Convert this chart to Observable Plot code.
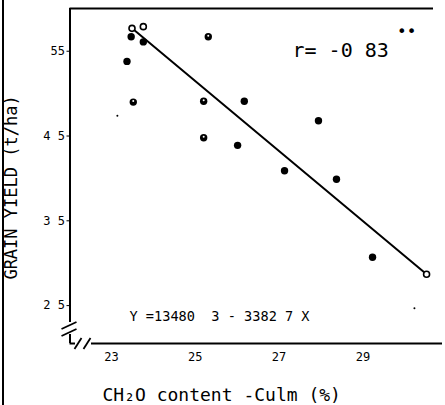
<!DOCTYPE html>
<html><head><meta charset="utf-8">
<script src="https://cdn.jsdelivr.net/npm/d3@7"></script>
<script src="https://cdn.jsdelivr.net/npm/@observablehq/plot@0.6"></script>
<style>
body{margin:0;background:#fff;}
#chart{width:445px;height:405px;}
</style></head><body><div id="chart"></div>
<script>
// Data
const xValues = [2.349, 2.376, 2.347, 2.376, 2.337, 2.352, 2.531, 2.520, 2.617, 2.520, 2.601, 2.713, 2.794, 2.837, 2.923, 3.052];
const yValues = [5.77, 5.79, 5.67, 5.61, 5.38, 4.90, 5.67, 4.91, 4.91, 4.48, 4.39, 4.09, 4.68, 3.99, 3.07, 2.87];
const pointTypes = ["open","open","filled","filled","filled","half","half","half","filled","half","filled","filled","filled","filled","filled","open"];
const speckX = [2.314, 3.023];
const speckY = [4.74, 2.47];
const fitX = [2.349, 3.052];
const fitY = [5.77, 2.87];
const xTicks = [2.3, 2.5, 2.7, 2.9];
const xTickLabels = ["23", "25", "27", "29"];
const yTicks = [5.5, 4.5, 3.5, 2.5];
const yTickLabels = ["55", "4 5", "3 5", "2 5"];
const xLabel = "CH₂O content -Culm (%)";
const yLabel = "GRAIN YIELD (t/ha)";
const rText = "r= -0 83";
const rStars = "••";
const eqText = "Y =13480  3 - 3382 7 X";

const nb = s => s.replace(/ /g, "\u00a0");
const W = 445, H = 405, mL = 69.5, mR = 3, mT = 8, mB = 62;
const xDomain = [2.201, 3.090], yDomain = [2.053, 6.004];
const xs = d3.scaleLinear(xDomain, [mL, W - mR]);
const ys = d3.scaleLinear(yDomain, [H - mB, mT]);
const pts = xValues.map((x, i) => ({x, y: yValues[i], type: pointTypes[i]}));
const fit = fitX.map((x, i) => ({x, y: fitY[i]}));
const specks = speckX.map((x, i) => ({x, y: speckY[i]}));
const font = "DejaVu Sans Mono";

const plot = Plot.plot({
  width: W, height: H,
  marginLeft: mL, marginRight: mR, marginTop: mT, marginBottom: mB,
  style: {fontFamily: font, background: "white", color: "black"},
  x: {domain: xDomain},
  y: {domain: yDomain},
  marks: [
    Plot.ruleY([yDomain[1]], {x1: xDomain[0], x2: xs.invert(433), strokeWidth: 2}),
    Plot.ruleX([xDomain[0]], {y1: yDomain[1], y2: ys.invert(322), strokeWidth: 2}),
    Plot.ruleX([xDomain[0]], {y1: ys.invert(334), y2: yDomain[0], strokeWidth: 2}),
    Plot.ruleY([yDomain[0]], {x1: xDomain[0], x2: xs.invert(75), strokeWidth: 2}),
    Plot.ruleY([yDomain[0]], {x1: xs.invert(91), x2: xDomain[1], strokeWidth: 2}),
    Plot.axisX(xTicks, {tickSize: 0, tickPadding: 9, fontSize: 12, label: null,
      tickFormat: d => xTickLabels[xTicks.indexOf(d)]}),
    Plot.axisY(yTicks, {tickSize: 3, tickPadding: 2, fontSize: 12, label: null,
      tickFormat: d => nb(yTickLabels[yTicks.indexOf(d)])}),
    Plot.line(fit, {x: "x", y: "y", stroke: "black", strokeWidth: 2}),
    Plot.dot(pts.filter(d => d.type !== "open"), {x: "x", y: "y", r: 3.7, fill: "black"}),
    Plot.dot(pts.filter(d => d.type === "half"), {x: "x", y: "y", r: 1.0, fill: "white", dy: -1}),
    Plot.dot(pts.filter(d => d.type === "open"), {x: "x", y: "y", r: 3, fill: "white", stroke: "black", strokeWidth: 1.6}),
    Plot.dot(specks, {x: "x", y: "y", r: 1, fill: "black"}),
    Plot.text([nb(rText)], {text: d => d, frameAnchor: "top-left", dx: 222.5, dy: 42, textAnchor: "start", lineAnchor: "middle", fontSize: 20}),
    Plot.text([rStars], {text: d => d, frameAnchor: "top-left", dx: 327, dy: 23, textAnchor: "start", lineAnchor: "middle", fontSize: 16}),
    Plot.text([nb(eqText)], {text: d => d, frameAnchor: "bottom-left", dx: 59.5, dy: -27, textAnchor: "start", lineAnchor: "middle", fontSize: 13.6}),
    Plot.text([nb(xLabel)], {text: d => d, frameAnchor: "bottom-left", dx: 32.5, dy: 52, textAnchor: "start", lineAnchor: "middle", fontSize: 18}),
    Plot.text([yLabel], {text: d => d, frameAnchor: "left", dx: -58.5, dy: 11.5, rotate: -90, textAnchor: "middle", lineAnchor: "middle", fontSize: 17})
  ]
});
document.getElementById("chart").appendChild(plot);

// decorations: figure border and axis break marks
const svg = d3.select(plot);
const sx = plot.scale("x"), sy = plot.scale("y");
const x0 = sx.apply(xDomain[0]), y0 = sy.apply(yDomain[0]);
svg.append("line").attr("x1", 3).attr("x2", 3).attr("y1", 0).attr("y2", H)
  .attr("stroke", "black").attr("stroke-width", 2);
const brk = [
  [x0 - 8, 329, x0 + 7, 322],
  [x0 - 8, 336, x0 + 7, 329],
  [x0 + 5, y0 + 6, x0 + 12, y0 - 5],
  [x0 + 14, y0 + 6, x0 + 21, y0 - 5]
];
brk.forEach(([a, b, c, d]) => svg.append("line")
  .attr("x1", a).attr("y1", b).attr("x2", c).attr("y2", d)
  .attr("stroke", "black").attr("stroke-width", 1.8));
</script></body></html>
